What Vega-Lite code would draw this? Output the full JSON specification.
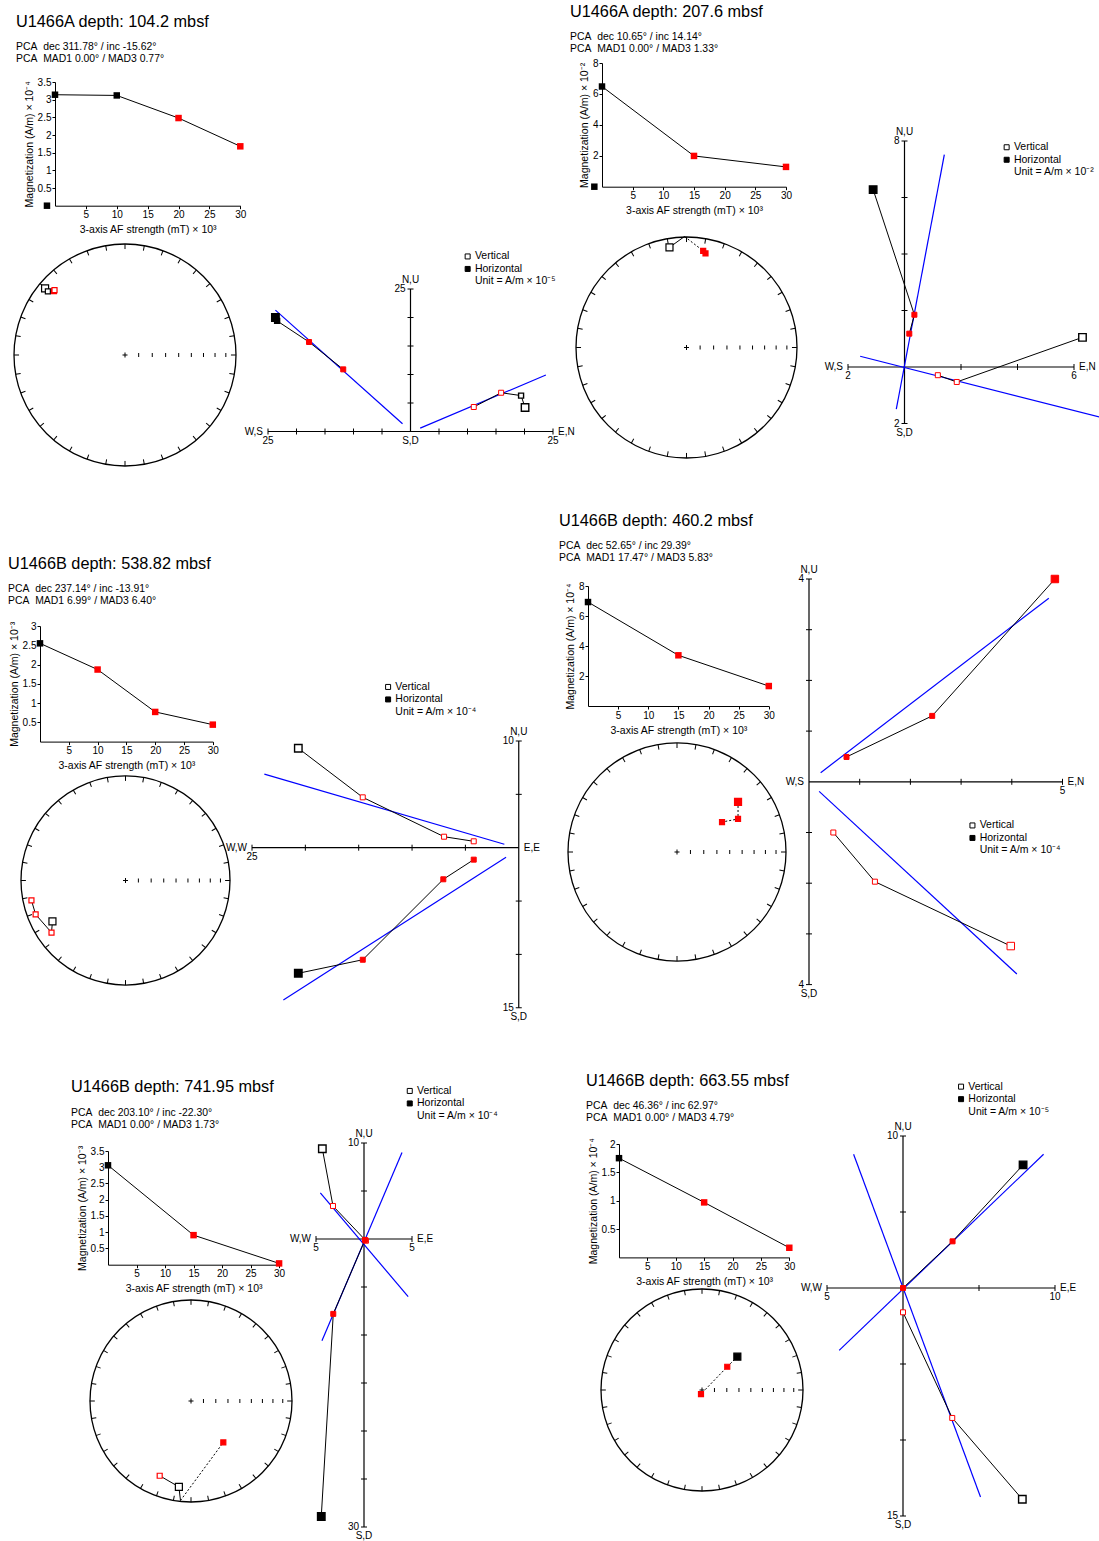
{
"$schema":"https://vega.github.io/schema/vega-lite/v6.json",
"padding":0,
"background":"white",
"bounds":"flush",
"spacing":0,
"resolve":{"scale":{"fill":"independent","stroke":"independent"},"legend":{"fill":"independent","stroke":"independent"}},
"config":{
 "view":{"stroke":null},
 "font":"Liberation Sans",
 "point":{"opacity":1},
 "axis":{"grid":false,"domainColor":"black","tickColor":"black","labelColor":"black","titleColor":"black","labelFontSize":10,"titleFontSize":10.5,"titleFontWeight":"normal","tickSize":3,"labelPadding":1,"labelFlush":false,"labelOverlap":false,"domainWidth":1,"tickWidth":1,"labelFont":"Liberation Sans","titleFont":"Liberation Sans","format":"~g"},
 "axisX":{"titlePadding":5},
 "axisY":{"titlePadding":3},
 "title":{"anchor":"start","frame":"group","fontSize":16.3,"fontWeight":"normal","color":"black","subtitleFontSize":10.4,"subtitleColor":"black","subtitlePadding":12,"subtitleLineHeight":12,"font":"Liberation Sans","subtitleFont":"Liberation Sans"},
 "legend":{"labelFontSize":10.5,"labelColor":"black","labelFont":"Liberation Sans","padding":0}
},
"datasets":{
 "ctr":[{"x":0,"y":0}],
 "net":[{"a":0,"x":0,"y":0.977},{"a":10,"x":0.1697,"y":0.9622},{"a":20,"x":0.3342,"y":0.9181},{"a":30,"x":0.4885,"y":0.8461},{"a":40,"x":0.628,"y":0.7484},{"a":50,"x":0.7484,"y":0.628},{"a":60,"x":0.8461,"y":0.4885},{"a":70,"x":0.9181,"y":0.3342},{"a":80,"x":0.9622,"y":0.1697},{"a":90,"x":0.977,"y":0},{"a":100,"x":0.9622,"y":-0.1697},{"a":110,"x":0.9181,"y":-0.3342},{"a":120,"x":0.8461,"y":-0.4885},{"a":130,"x":0.7484,"y":-0.628},{"a":140,"x":0.628,"y":-0.7484},{"a":150,"x":0.4885,"y":-0.8461},{"a":160,"x":0.3342,"y":-0.9181},{"a":170,"x":0.1697,"y":-0.9622},{"a":180,"x":0,"y":-0.977},{"a":190,"x":-0.1697,"y":-0.9622},{"a":200,"x":-0.3342,"y":-0.9181},{"a":210,"x":-0.4885,"y":-0.8461},{"a":220,"x":-0.628,"y":-0.7484},{"a":230,"x":-0.7484,"y":-0.628},{"a":240,"x":-0.8461,"y":-0.4885},{"a":250,"x":-0.9181,"y":-0.3342},{"a":260,"x":-0.9622,"y":-0.1697},{"a":270,"x":-0.977,"y":0},{"a":280,"x":-0.9622,"y":0.1697},{"a":290,"x":-0.9181,"y":0.3342},{"a":300,"x":-0.8461,"y":0.4885},{"a":310,"x":-0.7484,"y":0.628},{"a":320,"x":-0.628,"y":0.7484},{"a":330,"x":-0.4885,"y":0.8461},{"a":340,"x":-0.3342,"y":0.9181},{"a":350,"x":-0.1697,"y":0.9622}],
 "inc":[{"x":0.1233,"y":0},{"x":0.2456,"y":0},{"x":0.366,"y":0},{"x":0.4837,"y":0},{"x":0.5976,"y":0},{"x":0.7071,"y":0},{"x":0.8112,"y":0},{"x":0.9085,"y":0}],
 "lc_L1":[{"af":0,"m":3.14,"fit":false,"step":0},{"af":10,"m":3.12,"fit":false,"step":10},{"af":20,"m":2.48,"fit":true,"step":20},{"af":30,"m":1.68,"fit":true,"step":30},{"af":-1.3,"m":0,"fit":false,"step":-1}],
 "lc_R1":[{"af":0,"m":6.48,"fit":false,"step":0},{"af":15,"m":1.99,"fit":true,"step":15},{"af":30,"m":1.28,"fit":true,"step":30},{"af":-1.25,"m":0,"fit":false,"step":-1}],
 "lc_L2":[{"af":0,"m":2.55,"fit":false,"step":0},{"af":10,"m":1.87,"fit":true,"step":10},{"af":20,"m":0.77,"fit":true,"step":20},{"af":30,"m":0.44,"fit":true,"step":30}],
 "lc_R2":[{"af":0,"m":6.93,"fit":false,"step":0},{"af":15,"m":3.38,"fit":true,"step":15},{"af":30,"m":1.33,"fit":true,"step":30}],
 "lc_L3":[{"af":0,"m":3.06,"fit":false,"step":0},{"af":15,"m":0.91,"fit":true,"step":15},{"af":30,"m":0.04,"fit":true,"step":30}],
 "lc_R3":[{"af":0,"m":1.75,"fit":false,"step":0},{"af":15,"m":0.97,"fit":true,"step":15},{"af":30,"m":0.17,"fit":true,"step":30}],
 "s_L1":[{"k":"pt","x":-0.72,"y":0.6,"step":0,"fit":false,"up":true},{"k":"pt","x":-0.695,"y":0.573,"step":10,"fit":false,"up":true},{"k":"pt","x":-0.64,"y":0.575,"step":20,"fit":true,"up":true},{"k":"pt","x":-0.635,"y":0.585,"step":30,"fit":true,"up":true},
   {"k":"path","g":1,"o":0,"lo":false,"x":-0.72,"y":0.6},{"k":"path","g":1,"o":1,"lo":false,"x":-0.695,"y":0.573},{"k":"path","g":1,"o":2,"lo":false,"x":-0.64,"y":0.575},{"k":"path","g":1,"o":3,"lo":false,"x":-0.635,"y":0.585}],
 "s_R1":[{"k":"pt","x":-0.154,"y":0.906,"step":0,"fit":false,"up":true},{"k":"pt","x":0.151,"y":0.875,"step":15,"fit":true,"up":false},{"k":"pt","x":0.172,"y":0.851,"step":30,"fit":true,"up":false},
   {"k":"path","g":1,"o":0,"lo":false,"x":-0.154,"y":0.906},{"k":"path","g":1,"o":1,"lo":false,"x":-0.018,"y":1.0045},{"k":"path","g":2,"o":0,"lo":true,"x":-0.018,"y":1.0045},{"k":"path","g":2,"o":1,"lo":true,"x":0.151,"y":0.875},{"k":"path","g":2,"o":2,"lo":true,"x":0.172,"y":0.851}],
 "s_L2":[{"k":"pt","x":-0.699,"y":-0.392,"step":0,"fit":false,"up":true},{"k":"pt","x":-0.708,"y":-0.498,"step":10,"fit":true,"up":true},{"k":"pt","x":-0.86,"y":-0.325,"step":20,"fit":true,"up":true},{"k":"pt","x":-0.9,"y":-0.19,"step":30,"fit":true,"up":true},
   {"k":"path","g":1,"o":0,"lo":false,"x":-0.699,"y":-0.392},{"k":"path","g":1,"o":1,"lo":false,"x":-0.708,"y":-0.498},{"k":"path","g":1,"o":2,"lo":false,"x":-0.86,"y":-0.325},{"k":"path","g":1,"o":3,"lo":false,"x":-0.9,"y":-0.19}],
 "s_R2":[{"k":"pt","x":0.56,"y":0.459,"step":0,"fit":true,"up":false},{"k":"pt","x":0.56,"y":0.303,"step":15,"fit":true,"up":false},{"k":"pt","x":0.413,"y":0.275,"step":30,"fit":true,"up":false},
   {"k":"path","g":1,"o":0,"lo":true,"x":0.56,"y":0.459},{"k":"path","g":1,"o":1,"lo":true,"x":0.56,"y":0.303},{"k":"path","g":1,"o":2,"lo":true,"x":0.413,"y":0.275}],
 "s_L3":[{"k":"pt","x":-0.12,"y":-0.85,"step":0,"fit":false,"up":true},{"k":"pt","x":-0.31,"y":-0.74,"step":15,"fit":true,"up":true},{"k":"pt","x":0.32,"y":-0.41,"step":30,"fit":true,"up":false},
   {"k":"path","g":1,"o":0,"lo":false,"x":-0.31,"y":-0.74},{"k":"path","g":1,"o":1,"lo":false,"x":-0.12,"y":-0.85},{"k":"path","g":1,"o":2,"lo":false,"x":-0.104,"y":-0.985},{"k":"path","g":2,"o":0,"lo":true,"x":-0.104,"y":-0.985},{"k":"path","g":2,"o":1,"lo":true,"x":0.32,"y":-0.41}],
 "s_R3":[{"k":"pt","x":0.35,"y":0.33,"step":0,"fit":false,"up":false},{"k":"pt","x":0.25,"y":0.23,"step":15,"fit":true,"up":false},{"k":"pt","x":-0.01,"y":-0.04,"step":30,"fit":true,"up":false},
   {"k":"path","g":1,"o":0,"lo":true,"x":0.35,"y":0.33},{"k":"path","g":1,"o":1,"lo":true,"x":0.25,"y":0.23},{"k":"path","g":1,"o":2,"lo":true,"x":-0.01,"y":-0.04}],
 "z_L1":[
   {"k":"pt","comp":"Horizontal","x":-23.7,"y":20.0,"step":0,"fit":false},{"k":"pt","comp":"Horizontal","x":-23.4,"y":19.4,"step":10,"fit":false},{"k":"pt","comp":"Horizontal","x":-17.8,"y":15.7,"step":20,"fit":true},{"k":"pt","comp":"Horizontal","x":-11.8,"y":10.9,"step":30,"fit":true},
   {"k":"pt","comp":"Vertical","x":20.1,"y":4.2,"step":0,"fit":false},{"k":"pt","comp":"Vertical","x":19.4,"y":6.3,"step":10,"fit":false},{"k":"pt","comp":"Vertical","x":15.9,"y":6.8,"step":20,"fit":true},{"k":"pt","comp":"Vertical","x":11.1,"y":4.3,"step":30,"fit":true},
   {"k":"fit","x":-23.7,"y":21.3,"x2":-1.4,"y2":1.35},{"k":"fit","x":1.7,"y":0.6,"x2":23.75,"y2":9.9},
   {"k":"axis","x":-25,"y":0,"x2":25,"y2":0},{"k":"axis","x":0,"y":0,"x2":0,"y2":25},
   {"k":"ht","x":-25,"y":0},{"k":"ht","x":-20,"y":0},{"k":"ht","x":-15,"y":0},{"k":"ht","x":-10,"y":0},{"k":"ht","x":-5,"y":0},{"k":"ht","x":5,"y":0},{"k":"ht","x":10,"y":0},{"k":"ht","x":15,"y":0},{"k":"ht","x":20,"y":0},{"k":"ht","x":25,"y":0},
   {"k":"vt","x":0,"y":5},{"k":"vt","x":0,"y":10},{"k":"vt","x":0,"y":15},{"k":"vt","x":0,"y":20},{"k":"vt","x":0,"y":25},
   {"k":"lab","pos":"above","t":"N,U","x":0,"y":25},{"k":"lab","pos":"leftof","t":"25","x":0,"y":25},{"k":"lab","pos":"leftof","t":"W,S","x":-25,"y":0},{"k":"lab","pos":"below","t":"25","x":-25,"y":0},{"k":"lab","pos":"rightof","t":"E,N","x":25,"y":0},{"k":"lab","pos":"below","t":"25","x":25,"y":0},{"k":"lab","pos":"below","t":"S,D","x":0,"y":0}],
 "z_R1":[
   {"k":"pt","comp":"Horizontal","x":-1.11,"y":6.28,"step":0,"fit":false},{"k":"pt","comp":"Horizontal","x":0.35,"y":1.85,"step":15,"fit":true},{"k":"pt","comp":"Horizontal","x":0.17,"y":1.18,"step":30,"fit":true},
   {"k":"pt","comp":"Vertical","x":6.3,"y":1.05,"step":0,"fit":false},{"k":"pt","comp":"Vertical","x":1.85,"y":-0.53,"step":15,"fit":true},{"k":"pt","comp":"Vertical","x":1.18,"y":-0.29,"step":30,"fit":true},
   {"k":"fit","x":1.41,"y":7.52,"x2":-0.29,"y2":-1.49},{"k":"fit","x":-1.57,"y":0.38,"x2":6.89,"y2":-1.77},
   {"k":"axis","x":-2,"y":0,"x2":6,"y2":0},{"k":"axis","x":0,"y":-2,"x2":0,"y2":8},
   {"k":"ht","x":-2,"y":0},{"k":"ht","x":2,"y":0},{"k":"ht","x":4,"y":0},{"k":"ht","x":6,"y":0},
   {"k":"vt","x":0,"y":-2},{"k":"vt","x":0,"y":2},{"k":"vt","x":0,"y":4},{"k":"vt","x":0,"y":6},{"k":"vt","x":0,"y":8},
   {"k":"lab","pos":"above","t":"N,U","x":0,"y":8},{"k":"lab","pos":"leftof","t":"8","x":0,"y":8},{"k":"lab","pos":"leftof","t":"W,S","x":-2,"y":0},{"k":"lab","pos":"below","t":"2","x":-2,"y":0},{"k":"lab","pos":"rightof","t":"E,N","x":6,"y":0},{"k":"lab","pos":"below","t":"6","x":6,"y":0},{"k":"lab","pos":"leftof","t":"2","x":0,"y":-2},{"k":"lab","pos":"below","t":"S,D","x":0,"y":-2}],
 "z_L2":[
   {"k":"pt","comp":"Vertical","x":-20.66,"y":9.32,"step":0,"fit":false},{"k":"pt","comp":"Vertical","x":-14.62,"y":4.72,"step":10,"fit":true},{"k":"pt","comp":"Vertical","x":-7.0,"y":1.03,"step":20,"fit":true},{"k":"pt","comp":"Vertical","x":-4.22,"y":0.6,"step":30,"fit":true},
   {"k":"pt","comp":"Horizontal","x":-20.66,"y":-11.77,"step":0,"fit":false},{"k":"pt","comp":"Horizontal","x":-14.62,"y":-10.5,"step":10,"fit":true},{"k":"pt","comp":"Horizontal","x":-7.07,"y":-2.96,"step":20,"fit":true},{"k":"pt","comp":"Horizontal","x":-4.22,"y":-1.12,"step":30,"fit":true},
   {"k":"fit","x":-23.84,"y":6.9,"x2":-1.35,"y2":0.32},{"k":"fit","x":-22.06,"y":-14.27,"x2":-1.19,"y2":-0.9},
   {"k":"axis","x":-25,"y":0,"x2":0,"y2":0},{"k":"axis","x":0,"y":-15,"x2":0,"y2":10},
   {"k":"ht","x":-25,"y":0},{"k":"ht","x":-20,"y":0},{"k":"ht","x":-15,"y":0},{"k":"ht","x":-10,"y":0},{"k":"ht","x":-5,"y":0},
   {"k":"vt","x":0,"y":-15},{"k":"vt","x":0,"y":-10},{"k":"vt","x":0,"y":-5},{"k":"vt","x":0,"y":5},{"k":"vt","x":0,"y":10},
   {"k":"lab","pos":"above","t":"N,U","x":0,"y":10},{"k":"lab","pos":"leftof","t":"10","x":0,"y":10},{"k":"lab","pos":"leftof","t":"W,W","x":-25,"y":0},{"k":"lab","pos":"below","t":"25","x":-25,"y":0},{"k":"lab","pos":"rightof","t":"E,E","x":0,"y":0},{"k":"lab","pos":"leftof","t":"15","x":0,"y":-15},{"k":"lab","pos":"below","t":"S,D","x":0,"y":-15}],
 "z_R2":[
   {"k":"pt","comp":"Horizontal","x":4.85,"y":4.0,"step":0,"fit":true},{"k":"pt","comp":"Horizontal","x":2.43,"y":1.3,"step":15,"fit":true},{"k":"pt","comp":"Horizontal","x":0.74,"y":0.49,"step":30,"fit":true},
   {"k":"pt","comp":"Vertical","x":3.98,"y":-3.24,"step":0,"fit":true},{"k":"pt","comp":"Vertical","x":1.3,"y":-1.97,"step":15,"fit":true},{"k":"pt","comp":"Vertical","x":0.48,"y":-1.0,"step":30,"fit":true},
   {"k":"fit","x":0.23,"y":0.18,"x2":4.73,"y2":3.62},{"k":"fit","x":0.2,"y":-0.19,"x2":4.1,"y2":-3.79},
   {"k":"axis","x":0,"y":0,"x2":5,"y2":0},{"k":"axis","x":0,"y":-4,"x2":0,"y2":4},
   {"k":"ht","x":1,"y":0},{"k":"ht","x":2,"y":0},{"k":"ht","x":3,"y":0},{"k":"ht","x":4,"y":0},{"k":"ht","x":5,"y":0},
   {"k":"vt","x":0,"y":-4},{"k":"vt","x":0,"y":-3},{"k":"vt","x":0,"y":-2},{"k":"vt","x":0,"y":-1},{"k":"vt","x":0,"y":1},{"k":"vt","x":0,"y":2},{"k":"vt","x":0,"y":3},{"k":"vt","x":0,"y":4},
   {"k":"lab","pos":"above","t":"N,U","x":0,"y":4},{"k":"lab","pos":"leftof","t":"4","x":0,"y":4},{"k":"lab","pos":"leftof","t":"W,S","x":0,"y":0},{"k":"lab","pos":"rightof","t":"E,N","x":5,"y":0},{"k":"lab","pos":"below","t":"5","x":5,"y":0},{"k":"lab","pos":"leftof","t":"4","x":0,"y":-4},{"k":"lab","pos":"below","t":"S,D","x":0,"y":-4}],
 "z_L3":[
   {"k":"pt","comp":"Vertical","x":-4.34,"y":9.4,"step":0,"fit":false},{"k":"pt","comp":"Vertical","x":-3.23,"y":3.44,"step":15,"fit":true},{"k":"pt","comp":"Vertical","x":0.2,"y":-0.18,"step":30,"fit":true},
   {"k":"pt","comp":"Horizontal","x":-4.45,"y":-28.9,"step":0,"fit":false},{"k":"pt","comp":"Horizontal","x":-3.2,"y":-7.8,"step":15,"fit":true},{"k":"pt","comp":"Horizontal","x":0.1,"y":-0.1,"step":30,"fit":true},
   {"k":"fit","x":3.96,"y":9.0,"x2":-4.38,"y2":-10.6},{"k":"fit","x":-4.55,"y":4.8,"x2":4.6,"y2":-6.0},
   {"k":"axis","x":-5,"y":0,"x2":5,"y2":0},{"k":"axis","x":0,"y":-30,"x2":0,"y2":10},
   {"k":"ht","x":-5,"y":0},{"k":"ht","x":5,"y":0},
   {"k":"vt","x":0,"y":-30},{"k":"vt","x":0,"y":-25},{"k":"vt","x":0,"y":-20},{"k":"vt","x":0,"y":-15},{"k":"vt","x":0,"y":-10},{"k":"vt","x":0,"y":-5},{"k":"vt","x":0,"y":5},{"k":"vt","x":0,"y":10},
   {"k":"lab","pos":"above","t":"N,U","x":0,"y":10},{"k":"lab","pos":"leftof","t":"10","x":0,"y":10},{"k":"lab","pos":"leftof","t":"W,W","x":-5,"y":0},{"k":"lab","pos":"below","t":"5","x":-5,"y":0},{"k":"lab","pos":"rightof","t":"E,E","x":5,"y":0},{"k":"lab","pos":"below","t":"5","x":5,"y":0},{"k":"lab","pos":"leftof","t":"30","x":0,"y":-30},{"k":"lab","pos":"below","t":"S,D","x":0,"y":-30}],
 "z_R3":[
   {"k":"pt","comp":"Horizontal","x":7.9,"y":8.1,"step":0,"fit":false},{"k":"pt","comp":"Horizontal","x":3.26,"y":3.07,"step":15,"fit":true},{"k":"pt","comp":"Horizontal","x":0,"y":0,"step":30,"fit":true},
   {"k":"pt","comp":"Vertical","x":7.85,"y":-13.9,"step":0,"fit":false},{"k":"pt","comp":"Vertical","x":3.24,"y":-8.55,"step":15,"fit":true},{"k":"pt","comp":"Vertical","x":0,"y":-1.6,"step":30,"fit":true},
   {"k":"fit","x":-3.25,"y":8.8,"x2":5.1,"y2":-13.75},{"k":"fit","x":9.25,"y":8.8,"x2":-4.2,"y2":-4.1},
   {"k":"axis","x":-5,"y":0,"x2":10,"y2":0},{"k":"axis","x":0,"y":-15,"x2":0,"y2":10},
   {"k":"ht","x":-5,"y":0},{"k":"ht","x":5,"y":0},{"k":"ht","x":10,"y":0},
   {"k":"vt","x":0,"y":-15},{"k":"vt","x":0,"y":-10},{"k":"vt","x":0,"y":-5},{"k":"vt","x":0,"y":5},{"k":"vt","x":0,"y":10},
   {"k":"lab","pos":"above","t":"N,U","x":0,"y":10},{"k":"lab","pos":"leftof","t":"10","x":0,"y":10},{"k":"lab","pos":"leftof","t":"W,W","x":-5,"y":0},{"k":"lab","pos":"below","t":"5","x":-5,"y":0},{"k":"lab","pos":"rightof","t":"E,E","x":10,"y":0},{"k":"lab","pos":"below","t":"10","x":10,"y":0},{"k":"lab","pos":"leftof","t":"15","x":0,"y":-15},{"k":"lab","pos":"below","t":"S,D","x":0,"y":-15}]
},
"hconcat":[
 {"columns":2,"bounds":"flush","spacing":0,"concat":[
  {"width":55,"height":82,"data":{"values":[]},"mark":"point"},{"width":1,"height":1,"data":{"values":[]},"mark":"point"},{"width":1,"height":1,"data":{"values":[]},"mark":"point"},
  {"width":185.3,"height":123.7,"data":{"name":"lc_L1"},
   "title":{"text":"U1466A depth: 104.2 mbsf","subtitle":["PCA\u00a0 dec 311.78° / inc -15.62°","PCA\u00a0 MAD1 0.00° / MAD3 0.77°"],"dx":-39,"offset":12.5},
   "encoding":{"x":{"field":"af","type":"quantitative","scale":{"domain":[0,30],"nice":false,"zero":false},"axis":{"values":[5,10,15,20,25,30],"title":"3-axis AF strength (mT) × 10³"}},"y":{"field":"m","type":"quantitative","scale":{"domain":[0,3.5],"nice":false,"zero":false},"axis":{"values":[0.5,1,1.5,2,2.5,3,3.5],"title":"Magnetization (A/m) × 10⁻⁴"}}},
   "layer":[
    {"transform":[{"filter":"datum.step >= 0"}],"mark":{"type":"line","color":"black","strokeWidth":1}},
    {"mark":{"type":"point","shape":"square","filled":true,"size":42,"opacity":1},"encoding":{"fill":{"condition":{"test":"datum.fit","value":"red"},"value":"black"}}}
   ]}]},
 {"columns":2,"bounds":"flush","spacing":0,"concat":[
  {"width":602,"height":62.3,"data":{"values":[]},"mark":"point"},{"width":1,"height":1,"data":{"values":[]},"mark":"point"},{"width":1,"height":1,"data":{"values":[]},"mark":"point"},
  {"width":184,"height":123.7,"data":{"name":"lc_R1"},
   "title":{"text":"U1466A depth: 207.6 mbsf","subtitle":["PCA\u00a0 dec 10.65° / inc 14.14°","PCA\u00a0 MAD1 0.00° / MAD3 1.33°"],"dx":-32,"offset":3.2},
   "encoding":{"x":{"field":"af","type":"quantitative","scale":{"domain":[0,30],"nice":false,"zero":false},"axis":{"values":[5,10,15,20,25,30],"title":"3-axis AF strength (mT) × 10³"}},"y":{"field":"m","type":"quantitative","scale":{"domain":[0,8],"nice":false,"zero":false},"axis":{"values":[2,4,6,8],"title":"Magnetization (A/m) × 10⁻²"}}},
   "layer":[
    {"transform":[{"filter":"datum.step >= 0"}],"mark":{"type":"line","color":"black","strokeWidth":1}},
    {"mark":{"type":"point","shape":"square","filled":true,"size":42,"opacity":1},"encoding":{"fill":{"condition":{"test":"datum.fit","value":"red"},"value":"black"}}}
   ]}]},
 {"columns":2,"bounds":"flush","spacing":0,"concat":[
  {"width":39.5,"height":626,"data":{"values":[]},"mark":"point"},{"width":1,"height":1,"data":{"values":[]},"mark":"point"},{"width":1,"height":1,"data":{"values":[]},"mark":"point"},
  {"width":172.8,"height":115.6,"data":{"name":"lc_L2"},
   "title":{"text":"U1466B depth: 538.82 mbsf","subtitle":["PCA\u00a0 dec 237.14° / inc -13.91°","PCA\u00a0 MAD1 6.99° / MAD3 6.40°"],"dx":-32,"offset":14.2},
   "encoding":{"x":{"field":"af","type":"quantitative","scale":{"domain":[0,30],"nice":false,"zero":false},"axis":{"values":[5,10,15,20,25,30],"title":"3-axis AF strength (mT) × 10³"}},"y":{"field":"m","type":"quantitative","scale":{"domain":[0,3],"nice":false,"zero":false},"axis":{"values":[0.5,1,1.5,2,2.5,3],"title":"Magnetization (A/m) × 10⁻³"}}},
   "layer":[
    {"transform":[{"filter":"datum.step >= 0"}],"mark":{"type":"line","color":"black","strokeWidth":1}},
    {"mark":{"type":"point","shape":"square","filled":true,"size":42,"opacity":1},"encoding":{"fill":{"condition":{"test":"datum.fit","value":"red"},"value":"black"}}}
   ]}]},
 {"columns":2,"bounds":"flush","spacing":0,"concat":[
  {"width":587.5,"height":585.7,"data":{"values":[]},"mark":"point"},{"width":1,"height":1,"data":{"values":[]},"mark":"point"},{"width":1,"height":1,"data":{"values":[]},"mark":"point"},
  {"width":180.8,"height":120,"data":{"name":"lc_R2"},
   "title":{"text":"U1466B depth: 460.2 mbsf","subtitle":["PCA\u00a0 dec 52.65° / inc 29.39°","PCA\u00a0 MAD1 17.47° / MAD3 5.83°"],"dx":-29,"offset":17.2},
   "encoding":{"x":{"field":"af","type":"quantitative","scale":{"domain":[0,30],"nice":false,"zero":false},"axis":{"values":[5,10,15,20,25,30],"title":"3-axis AF strength (mT) × 10³"}},"y":{"field":"m","type":"quantitative","scale":{"domain":[0,8],"nice":false,"zero":false},"axis":{"values":[2,4,6,8],"title":"Magnetization (A/m) × 10⁻⁴"}}},
   "layer":[
    {"transform":[{"filter":"datum.step >= 0"}],"mark":{"type":"line","color":"black","strokeWidth":1}},
    {"mark":{"type":"point","shape":"square","filled":true,"size":42,"opacity":1},"encoding":{"fill":{"condition":{"test":"datum.fit","value":"red"},"value":"black"}}}
   ]}]},
 {"columns":2,"bounds":"flush","spacing":0,"concat":[
  {"width":107.2,"height":1150.3,"data":{"values":[]},"mark":"point"},{"width":1,"height":1,"data":{"values":[]},"mark":"point"},{"width":1,"height":1,"data":{"values":[]},"mark":"point"},
  {"width":171.1,"height":113.7,"data":{"name":"lc_L3"},
   "title":{"text":"U1466B depth: 741.95 mbsf","subtitle":["PCA\u00a0 dec 203.10° / inc -22.30°","PCA\u00a0 MAD1 0.00° / MAD3 1.73°"],"dx":-37,"offset":15.2},
   "encoding":{"x":{"field":"af","type":"quantitative","scale":{"domain":[0,30],"nice":false,"zero":false},"axis":{"values":[5,10,15,20,25,30],"title":"3-axis AF strength (mT) × 10³"}},"y":{"field":"m","type":"quantitative","scale":{"domain":[0,3.5],"nice":false,"zero":false},"axis":{"values":[0.5,1,1.5,2,2.5,3,3.5],"title":"Magnetization (A/m) × 10⁻³"}}},
   "layer":[
    {"transform":[{"filter":"datum.step >= 0"}],"mark":{"type":"line","color":"black","strokeWidth":1}},
    {"mark":{"type":"point","shape":"square","filled":true,"size":42,"opacity":1},"encoding":{"fill":{"condition":{"test":"datum.fit","value":"red"},"value":"black"}}}
   ]}]},
 {"columns":2,"bounds":"flush","spacing":0,"concat":[
  {"width":619,"height":1143.3,"data":{"values":[]},"mark":"point"},{"width":1,"height":1,"data":{"values":[]},"mark":"point"},{"width":1,"height":1,"data":{"values":[]},"mark":"point"},
  {"width":170.3,"height":113.4,"data":{"name":"lc_R3"},
   "title":{"text":"U1466B depth: 663.55 mbsf","subtitle":["PCA\u00a0 dec 46.36° / inc 62.97°","PCA\u00a0 MAD1 0.00° / MAD3 4.79°"],"dx":-33,"offset":14.2},
   "encoding":{"x":{"field":"af","type":"quantitative","scale":{"domain":[0,30],"nice":false,"zero":false},"axis":{"values":[5,10,15,20,25,30],"title":"3-axis AF strength (mT) × 10³"}},"y":{"field":"m","type":"quantitative","scale":{"domain":[0,2],"nice":false,"zero":false},"axis":{"values":[0.5,1,1.5,2],"title":"Magnetization (A/m) × 10⁻⁴"}}},
   "layer":[
    {"transform":[{"filter":"datum.step >= 0"}],"mark":{"type":"line","color":"black","strokeWidth":1}},
    {"mark":{"type":"point","shape":"square","filled":true,"size":42,"opacity":1},"encoding":{"fill":{"condition":{"test":"datum.fit","value":"red"},"value":"black"}}}
   ]}]},

 {"columns":2,"bounds":"flush","spacing":0,"concat":[
  {"width":14,"height":243.3,"data":{"values":[]},"mark":"point"},{"width":1,"height":1,"data":{"values":[]},"mark":"point"},{"width":1,"height":1,"data":{"values":[]},"mark":"point"},
  {"width":222,"height":222,
   "encoding":{"x":{"field":"x","type":"quantitative","scale":{"domain":[-1,1],"nice":false,"zero":false},"axis":null},"y":{"field":"y","type":"quantitative","scale":{"domain":[-1,1],"nice":false,"zero":false},"axis":null}},
   "layer":[
    {"data":{"name":"ctr"},"mark":{"type":"point","shape":"circle","size":49284,"filled":false,"stroke":"black","strokeWidth":1.3,"opacity":1}},
    {"data":{"name":"net"},"mark":{"type":"point","shape":"stroke","size":25,"stroke":"black","strokeWidth":1,"opacity":1},"encoding":{"angle":{"field":"a","type":"quantitative","scale":{"domain":[0,360],"range":[90,450]},"legend":null}}},
    {"data":{"name":"inc"},"mark":{"type":"point","shape":"stroke","size":16,"angle":90,"stroke":"black","strokeWidth":1,"opacity":1}},
    {"data":{"name":"ctr"},"mark":{"type":"point","shape":"stroke","size":25,"angle":0,"stroke":"black","strokeWidth":1,"opacity":1}},
    {"data":{"name":"ctr"},"mark":{"type":"point","shape":"stroke","size":25,"angle":90,"stroke":"black","strokeWidth":1,"opacity":1}},
    {"data":{"name":"s_L1"},"transform":[{"filter":"datum.k=='path' && !datum.lo"}],"mark":{"type":"line","color":"black","strokeWidth":1},"encoding":{"detail":{"field":"g"},"order":{"field":"o"}}},
    {"data":{"name":"s_L1"},"transform":[{"filter":"datum.k=='path' && datum.lo"}],"mark":{"type":"line","color":"black","strokeWidth":1,"strokeDash":[2,2]},"encoding":{"detail":{"field":"g"},"order":{"field":"o"}}},
    {"data":{"name":"s_L1"},"transform":[{"filter":"datum.k=='pt'"}],"mark":{"type":"point","shape":"square","filled":true,"strokeWidth":1.2,"opacity":1},"encoding":{"fill":{"condition":[{"test":"datum.up","value":"white"},{"test":"datum.fit","value":"red"}],"value":"black"},"stroke":{"condition":{"test":"datum.fit","value":"red"},"value":"black"},"size":{"condition":{"test":"datum.step==0","value":49},"value":25}}}
   ]}]},
 {"columns":2,"bounds":"flush","spacing":0,"concat":[
  {"width":575.5,"height":236.2,"data":{"values":[]},"mark":"point"},{"width":1,"height":1,"data":{"values":[]},"mark":"point"},{"width":1,"height":1,"data":{"values":[]},"mark":"point"},
  {"width":221,"height":221,
   "encoding":{"x":{"field":"x","type":"quantitative","scale":{"domain":[-1,1],"nice":false,"zero":false},"axis":null},"y":{"field":"y","type":"quantitative","scale":{"domain":[-1,1],"nice":false,"zero":false},"axis":null}},
   "layer":[
    {"data":{"name":"ctr"},"mark":{"type":"point","shape":"circle","size":48841,"filled":false,"stroke":"black","strokeWidth":1.3,"opacity":1}},
    {"data":{"name":"net"},"mark":{"type":"point","shape":"stroke","size":25,"stroke":"black","strokeWidth":1,"opacity":1},"encoding":{"angle":{"field":"a","type":"quantitative","scale":{"domain":[0,360],"range":[90,450]},"legend":null}}},
    {"data":{"name":"inc"},"mark":{"type":"point","shape":"stroke","size":16,"angle":90,"stroke":"black","strokeWidth":1,"opacity":1}},
    {"data":{"name":"ctr"},"mark":{"type":"point","shape":"stroke","size":25,"angle":0,"stroke":"black","strokeWidth":1,"opacity":1}},
    {"data":{"name":"ctr"},"mark":{"type":"point","shape":"stroke","size":25,"angle":90,"stroke":"black","strokeWidth":1,"opacity":1}},
    {"data":{"name":"s_R1"},"transform":[{"filter":"datum.k=='path' && !datum.lo"}],"mark":{"type":"line","color":"black","strokeWidth":1},"encoding":{"detail":{"field":"g"},"order":{"field":"o"}}},
    {"data":{"name":"s_R1"},"transform":[{"filter":"datum.k=='path' && datum.lo"}],"mark":{"type":"line","color":"black","strokeWidth":1,"strokeDash":[2,2]},"encoding":{"detail":{"field":"g"},"order":{"field":"o"}}},
    {"data":{"name":"s_R1"},"transform":[{"filter":"datum.k=='pt'"}],"mark":{"type":"point","shape":"square","filled":true,"strokeWidth":1.2,"opacity":1},"encoding":{"fill":{"condition":[{"test":"datum.up","value":"white"},{"test":"datum.fit","value":"red"}],"value":"black"},"stroke":{"condition":{"test":"datum.fit","value":"red"},"value":"black"},"size":{"condition":{"test":"datum.step==0","value":49},"value":25}}}
   ]}]},
 {"columns":2,"bounds":"flush","spacing":0,"concat":[
  {"width":20.5,"height":775.5,"data":{"values":[]},"mark":"point"},{"width":1,"height":1,"data":{"values":[]},"mark":"point"},{"width":1,"height":1,"data":{"values":[]},"mark":"point"},
  {"width":209,"height":209,
   "encoding":{"x":{"field":"x","type":"quantitative","scale":{"domain":[-1,1],"nice":false,"zero":false},"axis":null},"y":{"field":"y","type":"quantitative","scale":{"domain":[-1,1],"nice":false,"zero":false},"axis":null}},
   "layer":[
    {"data":{"name":"ctr"},"mark":{"type":"point","shape":"circle","size":43681,"filled":false,"stroke":"black","strokeWidth":1.3,"opacity":1}},
    {"data":{"name":"net"},"mark":{"type":"point","shape":"stroke","size":25,"stroke":"black","strokeWidth":1,"opacity":1},"encoding":{"angle":{"field":"a","type":"quantitative","scale":{"domain":[0,360],"range":[90,450]},"legend":null}}},
    {"data":{"name":"inc"},"mark":{"type":"point","shape":"stroke","size":16,"angle":90,"stroke":"black","strokeWidth":1,"opacity":1}},
    {"data":{"name":"ctr"},"mark":{"type":"point","shape":"stroke","size":25,"angle":0,"stroke":"black","strokeWidth":1,"opacity":1}},
    {"data":{"name":"ctr"},"mark":{"type":"point","shape":"stroke","size":25,"angle":90,"stroke":"black","strokeWidth":1,"opacity":1}},
    {"data":{"name":"s_L2"},"transform":[{"filter":"datum.k=='path' && !datum.lo"}],"mark":{"type":"line","color":"black","strokeWidth":1},"encoding":{"detail":{"field":"g"},"order":{"field":"o"}}},
    {"data":{"name":"s_L2"},"transform":[{"filter":"datum.k=='path' && datum.lo"}],"mark":{"type":"line","color":"black","strokeWidth":1,"strokeDash":[2,2]},"encoding":{"detail":{"field":"g"},"order":{"field":"o"}}},
    {"data":{"name":"s_L2"},"transform":[{"filter":"datum.k=='pt'"}],"mark":{"type":"point","shape":"square","filled":true,"strokeWidth":1.2,"opacity":1},"encoding":{"fill":{"condition":[{"test":"datum.up","value":"white"},{"test":"datum.fit","value":"red"}],"value":"black"},"stroke":{"condition":{"test":"datum.fit","value":"red"},"value":"black"},"size":{"condition":{"test":"datum.step==0","value":49},"value":25}}}
   ]}]},
 {"columns":2,"bounds":"flush","spacing":0,"concat":[
  {"width":568,"height":743,"data":{"values":[]},"mark":"point"},{"width":1,"height":1,"data":{"values":[]},"mark":"point"},{"width":1,"height":1,"data":{"values":[]},"mark":"point"},
  {"width":218,"height":218,
   "encoding":{"x":{"field":"x","type":"quantitative","scale":{"domain":[-1,1],"nice":false,"zero":false},"axis":null},"y":{"field":"y","type":"quantitative","scale":{"domain":[-1,1],"nice":false,"zero":false},"axis":null}},
   "layer":[
    {"data":{"name":"ctr"},"mark":{"type":"point","shape":"circle","size":47524,"filled":false,"stroke":"black","strokeWidth":1.3,"opacity":1}},
    {"data":{"name":"net"},"mark":{"type":"point","shape":"stroke","size":25,"stroke":"black","strokeWidth":1,"opacity":1},"encoding":{"angle":{"field":"a","type":"quantitative","scale":{"domain":[0,360],"range":[90,450]},"legend":null}}},
    {"data":{"name":"inc"},"mark":{"type":"point","shape":"stroke","size":16,"angle":90,"stroke":"black","strokeWidth":1,"opacity":1}},
    {"data":{"name":"ctr"},"mark":{"type":"point","shape":"stroke","size":25,"angle":0,"stroke":"black","strokeWidth":1,"opacity":1}},
    {"data":{"name":"ctr"},"mark":{"type":"point","shape":"stroke","size":25,"angle":90,"stroke":"black","strokeWidth":1,"opacity":1}},
    {"data":{"name":"s_R2"},"transform":[{"filter":"datum.k=='path' && !datum.lo"}],"mark":{"type":"line","color":"black","strokeWidth":1},"encoding":{"detail":{"field":"g"},"order":{"field":"o"}}},
    {"data":{"name":"s_R2"},"transform":[{"filter":"datum.k=='path' && datum.lo"}],"mark":{"type":"line","color":"black","strokeWidth":1,"strokeDash":[2,2]},"encoding":{"detail":{"field":"g"},"order":{"field":"o"}}},
    {"data":{"name":"s_R2"},"transform":[{"filter":"datum.k=='pt'"}],"mark":{"type":"point","shape":"square","filled":true,"strokeWidth":1.2,"opacity":1},"encoding":{"fill":{"condition":[{"test":"datum.up","value":"white"},{"test":"datum.fit","value":"red"}],"value":"black"},"stroke":{"condition":{"test":"datum.fit","value":"red"},"value":"black"},"size":{"condition":{"test":"datum.step==0","value":49},"value":25}}}
   ]}]},
 {"columns":2,"bounds":"flush","spacing":0,"concat":[
  {"width":89.5,"height":1299.5,"data":{"values":[]},"mark":"point"},{"width":1,"height":1,"data":{"values":[]},"mark":"point"},{"width":1,"height":1,"data":{"values":[]},"mark":"point"},
  {"width":202,"height":202,
   "encoding":{"x":{"field":"x","type":"quantitative","scale":{"domain":[-1,1],"nice":false,"zero":false},"axis":null},"y":{"field":"y","type":"quantitative","scale":{"domain":[-1,1],"nice":false,"zero":false},"axis":null}},
   "layer":[
    {"data":{"name":"ctr"},"mark":{"type":"point","shape":"circle","size":40804,"filled":false,"stroke":"black","strokeWidth":1.3,"opacity":1}},
    {"data":{"name":"net"},"mark":{"type":"point","shape":"stroke","size":25,"stroke":"black","strokeWidth":1,"opacity":1},"encoding":{"angle":{"field":"a","type":"quantitative","scale":{"domain":[0,360],"range":[90,450]},"legend":null}}},
    {"data":{"name":"inc"},"mark":{"type":"point","shape":"stroke","size":16,"angle":90,"stroke":"black","strokeWidth":1,"opacity":1}},
    {"data":{"name":"ctr"},"mark":{"type":"point","shape":"stroke","size":25,"angle":0,"stroke":"black","strokeWidth":1,"opacity":1}},
    {"data":{"name":"ctr"},"mark":{"type":"point","shape":"stroke","size":25,"angle":90,"stroke":"black","strokeWidth":1,"opacity":1}},
    {"data":{"name":"s_L3"},"transform":[{"filter":"datum.k=='path' && !datum.lo"}],"mark":{"type":"line","color":"black","strokeWidth":1},"encoding":{"detail":{"field":"g"},"order":{"field":"o"}}},
    {"data":{"name":"s_L3"},"transform":[{"filter":"datum.k=='path' && datum.lo"}],"mark":{"type":"line","color":"black","strokeWidth":1,"strokeDash":[2,2]},"encoding":{"detail":{"field":"g"},"order":{"field":"o"}}},
    {"data":{"name":"s_L3"},"transform":[{"filter":"datum.k=='pt'"}],"mark":{"type":"point","shape":"square","filled":true,"strokeWidth":1.2,"opacity":1},"encoding":{"fill":{"condition":[{"test":"datum.up","value":"white"},{"test":"datum.fit","value":"red"}],"value":"black"},"stroke":{"condition":{"test":"datum.fit","value":"red"},"value":"black"},"size":{"condition":{"test":"datum.step==0","value":49},"value":25}}}
   ]}]},
 {"columns":2,"bounds":"flush","spacing":0,"concat":[
  {"width":600.5,"height":1289,"data":{"values":[]},"mark":"point"},{"width":1,"height":1,"data":{"values":[]},"mark":"point"},{"width":1,"height":1,"data":{"values":[]},"mark":"point"},
  {"width":202,"height":202,
   "encoding":{"x":{"field":"x","type":"quantitative","scale":{"domain":[-1,1],"nice":false,"zero":false},"axis":null},"y":{"field":"y","type":"quantitative","scale":{"domain":[-1,1],"nice":false,"zero":false},"axis":null}},
   "layer":[
    {"data":{"name":"ctr"},"mark":{"type":"point","shape":"circle","size":40804,"filled":false,"stroke":"black","strokeWidth":1.3,"opacity":1}},
    {"data":{"name":"net"},"mark":{"type":"point","shape":"stroke","size":25,"stroke":"black","strokeWidth":1,"opacity":1},"encoding":{"angle":{"field":"a","type":"quantitative","scale":{"domain":[0,360],"range":[90,450]},"legend":null}}},
    {"data":{"name":"inc"},"mark":{"type":"point","shape":"stroke","size":16,"angle":90,"stroke":"black","strokeWidth":1,"opacity":1}},
    {"data":{"name":"ctr"},"mark":{"type":"point","shape":"stroke","size":25,"angle":0,"stroke":"black","strokeWidth":1,"opacity":1}},
    {"data":{"name":"ctr"},"mark":{"type":"point","shape":"stroke","size":25,"angle":90,"stroke":"black","strokeWidth":1,"opacity":1}},
    {"data":{"name":"s_R3"},"transform":[{"filter":"datum.k=='path' && !datum.lo"}],"mark":{"type":"line","color":"black","strokeWidth":1},"encoding":{"detail":{"field":"g"},"order":{"field":"o"}}},
    {"data":{"name":"s_R3"},"transform":[{"filter":"datum.k=='path' && datum.lo"}],"mark":{"type":"line","color":"black","strokeWidth":1,"strokeDash":[2,2]},"encoding":{"detail":{"field":"g"},"order":{"field":"o"}}},
    {"data":{"name":"s_R3"},"transform":[{"filter":"datum.k=='pt'"}],"mark":{"type":"point","shape":"square","filled":true,"strokeWidth":1.2,"opacity":1},"encoding":{"fill":{"condition":[{"test":"datum.up","value":"white"},{"test":"datum.fit","value":"red"}],"value":"black"},"stroke":{"condition":{"test":"datum.fit","value":"red"},"value":"black"},"size":{"condition":{"test":"datum.step==0","value":49},"value":25}}}
   ]}]},

 {"columns":2,"bounds":"flush","spacing":0,"resolve":{"scale":{"fill":"independent","stroke":"independent"},"legend":{"fill":"independent","stroke":"independent"}},"concat":[
  {"width":267.8,"height":288.2,"data":{"values":[]},"mark":"point"},{"width":1,"height":1,"data":{"values":[]},"mark":"point"},{"width":1,"height":1,"data":{"values":[]},"mark":"point"},
  {"width":285,"height":142.5,"data":{"name":"z_L1"},
   "encoding":{"x":{"field":"x","type":"quantitative","scale":{"domain":[-25,25],"nice":false,"zero":false},"axis":null},"y":{"field":"y","type":"quantitative","scale":{"domain":[0,25],"nice":false,"zero":false},"axis":null}},
   "layer":[
    {"transform":[{"filter":"datum.k=='axis'"}],"mark":{"type":"rule","color":"black","strokeWidth":1.2},"encoding":{"x2":{"field":"x2"},"y2":{"field":"y2"}}},
    {"transform":[{"filter":"datum.k=='ht'"}],"mark":{"type":"point","shape":"stroke","size":36,"angle":90,"stroke":"black","strokeWidth":1,"opacity":1}},
    {"transform":[{"filter":"datum.k=='vt'"}],"mark":{"type":"point","shape":"stroke","size":36,"angle":0,"stroke":"black","strokeWidth":1,"opacity":1}},
    {"transform":[{"filter":"datum.k=='fit'"}],"mark":{"type":"rule","color":"blue","strokeWidth":1.2},"encoding":{"x2":{"field":"x2"},"y2":{"field":"y2"}}},
    {"transform":[{"filter":"datum.k=='pt'"}],"mark":{"type":"line","color":"black","strokeWidth":1},"encoding":{"detail":{"field":"comp"},"order":{"field":"step"}}},
    {"transform":[{"filter":"datum.k=='pt' && !datum.fit"}],"mark":{"type":"point","shape":"square","filled":true,"strokeWidth":1.4,"opacity":1},"encoding":{
      "fill":{"field":"comp","type":"nominal","scale":{"domain":["Vertical","Horizontal","Unit = A/m × 10⁻⁵"],"range":["white","black","transparent"]},"legend":{"orient":"none","legendX":194.4,"legendY":-37.8,"title":null,"symbolType":"square","symbolSize":25,"symbolStrokeWidth":1,"labelOffset":2,"rowPadding":1.5}},
      "stroke":{"field":"comp","type":"nominal","scale":{"domain":["Vertical","Horizontal","Unit = A/m × 10⁻⁵"],"range":["black","black","transparent"]},"legend":{"orient":"none","legendX":194.4,"legendY":-37.8,"title":null,"symbolType":"square","symbolSize":25,"symbolStrokeWidth":1,"labelOffset":2,"rowPadding":1.5}},
      "size":{"condition":{"test":"datum.step==0","value":56},"value":25}}},
    {"transform":[{"filter":"datum.k=='pt' && datum.fit"}],"mark":{"type":"point","shape":"square","filled":true,"stroke":"red","strokeWidth":1,"opacity":1},"encoding":{"fill":{"condition":{"test":"datum.comp=='Horizontal'","value":"red"},"value":"white"},"size":{"condition":{"test":"datum.step==0","value":56},"value":25}}},
    {"transform":[{"filter":"datum.k=='lab' && datum.pos=='above'"}],"mark":{"type":"text","align":"center","baseline":"alphabetic","dy":-6,"fontSize":10,"color":"black"},"encoding":{"text":{"field":"t"}}},
    {"transform":[{"filter":"datum.k=='lab' && datum.pos=='leftof'"}],"mark":{"type":"text","align":"right","baseline":"middle","dx":-5,"fontSize":10,"color":"black"},"encoding":{"text":{"field":"t"}}},
    {"transform":[{"filter":"datum.k=='lab' && datum.pos=='rightof'"}],"mark":{"type":"text","align":"left","baseline":"middle","dx":5,"fontSize":10,"color":"black"},"encoding":{"text":{"field":"t"}}},
    {"transform":[{"filter":"datum.k=='lab' && datum.pos=='below'"}],"mark":{"type":"text","align":"center","baseline":"top","dy":4,"fontSize":10,"color":"black"},"encoding":{"text":{"field":"t"}}}
   ]}]},
 {"columns":2,"bounds":"flush","spacing":0,"resolve":{"scale":{"fill":"independent","stroke":"independent"},"legend":{"fill":"independent","stroke":"independent"}},"concat":[
  {"width":847.8,"height":140.7,"data":{"values":[]},"mark":"point"},{"width":1,"height":1,"data":{"values":[]},"mark":"point"},{"width":1,"height":1,"data":{"values":[]},"mark":"point"},
  {"width":226,"height":282.5,"data":{"name":"z_R1"},
   "encoding":{"x":{"field":"x","type":"quantitative","scale":{"domain":[-2,6],"nice":false,"zero":false},"axis":null},"y":{"field":"y","type":"quantitative","scale":{"domain":[-2,8],"nice":false,"zero":false},"axis":null}},
   "layer":[
    {"transform":[{"filter":"datum.k=='axis'"}],"mark":{"type":"rule","color":"black","strokeWidth":1.2},"encoding":{"x2":{"field":"x2"},"y2":{"field":"y2"}}},
    {"transform":[{"filter":"datum.k=='ht'"}],"mark":{"type":"point","shape":"stroke","size":36,"angle":90,"stroke":"black","strokeWidth":1,"opacity":1}},
    {"transform":[{"filter":"datum.k=='vt'"}],"mark":{"type":"point","shape":"stroke","size":36,"angle":0,"stroke":"black","strokeWidth":1,"opacity":1}},
    {"transform":[{"filter":"datum.k=='fit'"}],"mark":{"type":"rule","color":"blue","strokeWidth":1.2},"encoding":{"x2":{"field":"x2"},"y2":{"field":"y2"}}},
    {"transform":[{"filter":"datum.k=='pt'"}],"mark":{"type":"line","color":"black","strokeWidth":1},"encoding":{"detail":{"field":"comp"},"order":{"field":"step"}}},
    {"transform":[{"filter":"datum.k=='pt' && !datum.fit"}],"mark":{"type":"point","shape":"square","filled":true,"strokeWidth":1.4,"opacity":1},"encoding":{
      "fill":{"field":"comp","type":"nominal","scale":{"domain":["Vertical","Horizontal","Unit = A/m × 10⁻²"],"range":["white","black","transparent"]},"legend":{"orient":"none","legendX":153.4,"legendY":1,"title":null,"symbolType":"square","symbolSize":25,"symbolStrokeWidth":1,"labelOffset":2,"rowPadding":1.5}},
      "stroke":{"field":"comp","type":"nominal","scale":{"domain":["Vertical","Horizontal","Unit = A/m × 10⁻²"],"range":["black","black","transparent"]},"legend":{"orient":"none","legendX":153.4,"legendY":1,"title":null,"symbolType":"square","symbolSize":25,"symbolStrokeWidth":1,"labelOffset":2,"rowPadding":1.5}},
      "size":{"condition":{"test":"datum.step==0","value":56},"value":25}}},
    {"transform":[{"filter":"datum.k=='pt' && datum.fit"}],"mark":{"type":"point","shape":"square","filled":true,"stroke":"red","strokeWidth":1,"opacity":1},"encoding":{"fill":{"condition":{"test":"datum.comp=='Horizontal'","value":"red"},"value":"white"},"size":{"condition":{"test":"datum.step==0","value":56},"value":25}}},
    {"transform":[{"filter":"datum.k=='lab' && datum.pos=='above'"}],"mark":{"type":"text","align":"center","baseline":"alphabetic","dy":-6,"fontSize":10,"color":"black"},"encoding":{"text":{"field":"t"}}},
    {"transform":[{"filter":"datum.k=='lab' && datum.pos=='leftof'"}],"mark":{"type":"text","align":"right","baseline":"middle","dx":-5,"fontSize":10,"color":"black"},"encoding":{"text":{"field":"t"}}},
    {"transform":[{"filter":"datum.k=='lab' && datum.pos=='rightof'"}],"mark":{"type":"text","align":"left","baseline":"middle","dx":5,"fontSize":10,"color":"black"},"encoding":{"text":{"field":"t"}}},
    {"transform":[{"filter":"datum.k=='lab' && datum.pos=='below'"}],"mark":{"type":"text","align":"center","baseline":"top","dy":4,"fontSize":10,"color":"black"},"encoding":{"text":{"field":"t"}}}
   ]}]},
 {"columns":2,"bounds":"flush","spacing":0,"resolve":{"scale":{"fill":"independent","stroke":"independent"},"legend":{"fill":"independent","stroke":"independent"}},"concat":[
  {"width":251.95,"height":741,"data":{"values":[]},"mark":"point"},{"width":1,"height":1,"data":{"values":[]},"mark":"point"},{"width":1,"height":1,"data":{"values":[]},"mark":"point"},
  {"width":266.75,"height":266.75,"data":{"name":"z_L2"},
   "encoding":{"x":{"field":"x","type":"quantitative","scale":{"domain":[-25,0],"nice":false,"zero":false},"axis":null},"y":{"field":"y","type":"quantitative","scale":{"domain":[-15,10],"nice":false,"zero":false},"axis":null}},
   "layer":[
    {"transform":[{"filter":"datum.k=='axis'"}],"mark":{"type":"rule","color":"black","strokeWidth":1.2},"encoding":{"x2":{"field":"x2"},"y2":{"field":"y2"}}},
    {"transform":[{"filter":"datum.k=='ht'"}],"mark":{"type":"point","shape":"stroke","size":36,"angle":90,"stroke":"black","strokeWidth":1,"opacity":1}},
    {"transform":[{"filter":"datum.k=='vt'"}],"mark":{"type":"point","shape":"stroke","size":36,"angle":0,"stroke":"black","strokeWidth":1,"opacity":1}},
    {"transform":[{"filter":"datum.k=='fit'"}],"mark":{"type":"rule","color":"blue","strokeWidth":1.2},"encoding":{"x2":{"field":"x2"},"y2":{"field":"y2"}}},
    {"transform":[{"filter":"datum.k=='pt'"}],"mark":{"type":"line","color":"black","strokeWidth":1},"encoding":{"detail":{"field":"comp"},"order":{"field":"step"}}},
    {"transform":[{"filter":"datum.k=='pt' && !datum.fit"}],"mark":{"type":"point","shape":"square","filled":true,"strokeWidth":1.4,"opacity":1},"encoding":{
      "fill":{"field":"comp","type":"nominal","scale":{"domain":["Vertical","Horizontal","Unit = A/m × 10⁻⁴"],"range":["white","black","transparent"]},"legend":{"orient":"none","legendX":130.85,"legendY":-59.3,"title":null,"symbolType":"square","symbolSize":25,"symbolStrokeWidth":1,"labelOffset":2,"rowPadding":1.5}},
      "stroke":{"field":"comp","type":"nominal","scale":{"domain":["Vertical","Horizontal","Unit = A/m × 10⁻⁴"],"range":["black","black","transparent"]},"legend":{"orient":"none","legendX":130.85,"legendY":-59.3,"title":null,"symbolType":"square","symbolSize":25,"symbolStrokeWidth":1,"labelOffset":2,"rowPadding":1.5}},
      "size":{"condition":{"test":"datum.step==0","value":56},"value":25}}},
    {"transform":[{"filter":"datum.k=='pt' && datum.fit"}],"mark":{"type":"point","shape":"square","filled":true,"stroke":"red","strokeWidth":1,"opacity":1},"encoding":{"fill":{"condition":{"test":"datum.comp=='Horizontal'","value":"red"},"value":"white"},"size":{"condition":{"test":"datum.step==0","value":56},"value":25}}},
    {"transform":[{"filter":"datum.k=='lab' && datum.pos=='above'"}],"mark":{"type":"text","align":"center","baseline":"alphabetic","dy":-6,"fontSize":10,"color":"black"},"encoding":{"text":{"field":"t"}}},
    {"transform":[{"filter":"datum.k=='lab' && datum.pos=='leftof'"}],"mark":{"type":"text","align":"right","baseline":"middle","dx":-5,"fontSize":10,"color":"black"},"encoding":{"text":{"field":"t"}}},
    {"transform":[{"filter":"datum.k=='lab' && datum.pos=='rightof'"}],"mark":{"type":"text","align":"left","baseline":"middle","dx":5,"fontSize":10,"color":"black"},"encoding":{"text":{"field":"t"}}},
    {"transform":[{"filter":"datum.k=='lab' && datum.pos=='below'"}],"mark":{"type":"text","align":"center","baseline":"top","dy":4,"fontSize":10,"color":"black"},"encoding":{"text":{"field":"t"}}}
   ]}]},
 {"columns":2,"bounds":"flush","spacing":0,"resolve":{"scale":{"fill":"independent","stroke":"independent"},"legend":{"fill":"independent","stroke":"independent"}},"concat":[
  {"width":809,"height":578.2,"data":{"values":[]},"mark":"point"},{"width":1,"height":1,"data":{"values":[]},"mark":"point"},{"width":1,"height":1,"data":{"values":[]},"mark":"point"},
  {"width":253.5,"height":405.6,"data":{"name":"z_R2"},
   "encoding":{"x":{"field":"x","type":"quantitative","scale":{"domain":[0,5],"nice":false,"zero":false},"axis":null},"y":{"field":"y","type":"quantitative","scale":{"domain":[-4,4],"nice":false,"zero":false},"axis":null}},
   "layer":[
    {"transform":[{"filter":"datum.k=='axis'"}],"mark":{"type":"rule","color":"black","strokeWidth":1.2},"encoding":{"x2":{"field":"x2"},"y2":{"field":"y2"}}},
    {"transform":[{"filter":"datum.k=='ht'"}],"mark":{"type":"point","shape":"stroke","size":36,"angle":90,"stroke":"black","strokeWidth":1,"opacity":1}},
    {"transform":[{"filter":"datum.k=='vt'"}],"mark":{"type":"point","shape":"stroke","size":36,"angle":0,"stroke":"black","strokeWidth":1,"opacity":1}},
    {"transform":[{"filter":"datum.k=='fit'"}],"mark":{"type":"rule","color":"blue","strokeWidth":1.2},"encoding":{"x2":{"field":"x2"},"y2":{"field":"y2"}}},
    {"transform":[{"filter":"datum.k=='pt'"}],"mark":{"type":"line","color":"black","strokeWidth":1},"encoding":{"detail":{"field":"comp"},"order":{"field":"step"}}},
    {"transform":[{"filter":"datum.k=='pt' && !datum.fit"}],"mark":{"type":"point","shape":"square","filled":true,"strokeWidth":1.4,"opacity":1},"encoding":{
      "fill":{"field":"comp","type":"nominal","scale":{"domain":["Vertical","Horizontal","Unit = A/m × 10⁻⁴"],"range":["white","black","transparent"]},"legend":{"orient":"none","legendX":158.2,"legendY":241.2,"title":null,"symbolType":"square","symbolSize":25,"symbolStrokeWidth":1,"labelOffset":2,"rowPadding":1.5}},
      "stroke":{"field":"comp","type":"nominal","scale":{"domain":["Vertical","Horizontal","Unit = A/m × 10⁻⁴"],"range":["black","black","transparent"]},"legend":{"orient":"none","legendX":158.2,"legendY":241.2,"title":null,"symbolType":"square","symbolSize":25,"symbolStrokeWidth":1,"labelOffset":2,"rowPadding":1.5}},
      "size":{"condition":{"test":"datum.step==0","value":56},"value":25}}},
    {"transform":[{"filter":"datum.k=='pt' && datum.fit"}],"mark":{"type":"point","shape":"square","filled":true,"stroke":"red","strokeWidth":1,"opacity":1},"encoding":{"fill":{"condition":{"test":"datum.comp=='Horizontal'","value":"red"},"value":"white"},"size":{"condition":{"test":"datum.step==0","value":56},"value":25}}},
    {"transform":[{"filter":"datum.k=='lab' && datum.pos=='above'"}],"mark":{"type":"text","align":"center","baseline":"alphabetic","dy":-6,"fontSize":10,"color":"black"},"encoding":{"text":{"field":"t"}}},
    {"transform":[{"filter":"datum.k=='lab' && datum.pos=='leftof'"}],"mark":{"type":"text","align":"right","baseline":"middle","dx":-5,"fontSize":10,"color":"black"},"encoding":{"text":{"field":"t"}}},
    {"transform":[{"filter":"datum.k=='lab' && datum.pos=='rightof'"}],"mark":{"type":"text","align":"left","baseline":"middle","dx":5,"fontSize":10,"color":"black"},"encoding":{"text":{"field":"t"}}},
    {"transform":[{"filter":"datum.k=='lab' && datum.pos=='below'"}],"mark":{"type":"text","align":"center","baseline":"top","dy":4,"fontSize":10,"color":"black"},"encoding":{"text":{"field":"t"}}}
   ]}]},
 {"columns":2,"bounds":"flush","spacing":0,"resolve":{"scale":{"fill":"independent","stroke":"independent"},"legend":{"fill":"independent","stroke":"independent"}},"concat":[
  {"width":315.7,"height":1142.3,"data":{"values":[]},"mark":"point"},{"width":1,"height":1,"data":{"values":[]},"mark":"point"},{"width":1,"height":1,"data":{"values":[]},"mark":"point"},
  {"width":96,"height":384,"data":{"name":"z_L3"},
   "encoding":{"x":{"field":"x","type":"quantitative","scale":{"domain":[-5,5],"nice":false,"zero":false},"axis":null},"y":{"field":"y","type":"quantitative","scale":{"domain":[-30,10],"nice":false,"zero":false},"axis":null}},
   "layer":[
    {"transform":[{"filter":"datum.k=='axis'"}],"mark":{"type":"rule","color":"black","strokeWidth":1.2},"encoding":{"x2":{"field":"x2"},"y2":{"field":"y2"}}},
    {"transform":[{"filter":"datum.k=='ht'"}],"mark":{"type":"point","shape":"stroke","size":36,"angle":90,"stroke":"black","strokeWidth":1,"opacity":1}},
    {"transform":[{"filter":"datum.k=='vt'"}],"mark":{"type":"point","shape":"stroke","size":36,"angle":0,"stroke":"black","strokeWidth":1,"opacity":1}},
    {"transform":[{"filter":"datum.k=='fit'"}],"mark":{"type":"rule","color":"blue","strokeWidth":1.2},"encoding":{"x2":{"field":"x2"},"y2":{"field":"y2"}}},
    {"transform":[{"filter":"datum.k=='pt'"}],"mark":{"type":"line","color":"black","strokeWidth":1},"encoding":{"detail":{"field":"comp"},"order":{"field":"step"}}},
    {"transform":[{"filter":"datum.k=='pt' && !datum.fit"}],"mark":{"type":"point","shape":"square","filled":true,"strokeWidth":1.4,"opacity":1},"encoding":{
      "fill":{"field":"comp","type":"nominal","scale":{"domain":["Vertical","Horizontal","Unit = A/m × 10⁻⁴"],"range":["white","black","transparent"]},"legend":{"orient":"none","legendX":88.5,"legendY":-57.3,"title":null,"symbolType":"square","symbolSize":25,"symbolStrokeWidth":1,"labelOffset":2,"rowPadding":1.5}},
      "stroke":{"field":"comp","type":"nominal","scale":{"domain":["Vertical","Horizontal","Unit = A/m × 10⁻⁴"],"range":["black","black","transparent"]},"legend":{"orient":"none","legendX":88.5,"legendY":-57.3,"title":null,"symbolType":"square","symbolSize":25,"symbolStrokeWidth":1,"labelOffset":2,"rowPadding":1.5}},
      "size":{"condition":{"test":"datum.step==0","value":56},"value":25}}},
    {"transform":[{"filter":"datum.k=='pt' && datum.fit"}],"mark":{"type":"point","shape":"square","filled":true,"stroke":"red","strokeWidth":1,"opacity":1},"encoding":{"fill":{"condition":{"test":"datum.comp=='Horizontal'","value":"red"},"value":"white"},"size":{"condition":{"test":"datum.step==0","value":56},"value":25}}},
    {"transform":[{"filter":"datum.k=='lab' && datum.pos=='above'"}],"mark":{"type":"text","align":"center","baseline":"alphabetic","dy":-6,"fontSize":10,"color":"black"},"encoding":{"text":{"field":"t"}}},
    {"transform":[{"filter":"datum.k=='lab' && datum.pos=='leftof'"}],"mark":{"type":"text","align":"right","baseline":"middle","dx":-5,"fontSize":10,"color":"black"},"encoding":{"text":{"field":"t"}}},
    {"transform":[{"filter":"datum.k=='lab' && datum.pos=='rightof'"}],"mark":{"type":"text","align":"left","baseline":"middle","dx":5,"fontSize":10,"color":"black"},"encoding":{"text":{"field":"t"}}},
    {"transform":[{"filter":"datum.k=='lab' && datum.pos=='below'"}],"mark":{"type":"text","align":"center","baseline":"top","dy":4,"fontSize":10,"color":"black"},"encoding":{"text":{"field":"t"}}}
   ]}]},
 {"columns":2,"bounds":"flush","spacing":0,"resolve":{"scale":{"fill":"independent","stroke":"independent"},"legend":{"fill":"independent","stroke":"independent"}},"concat":[
  {"width":826.7,"height":1136,"data":{"values":[]},"mark":"point"},{"width":1,"height":1,"data":{"values":[]},"mark":"point"},{"width":1,"height":1,"data":{"values":[]},"mark":"point"},
  {"width":228,"height":380,"data":{"name":"z_R3"},
   "encoding":{"x":{"field":"x","type":"quantitative","scale":{"domain":[-5,10],"nice":false,"zero":false},"axis":null},"y":{"field":"y","type":"quantitative","scale":{"domain":[-15,10],"nice":false,"zero":false},"axis":null}},
   "layer":[
    {"transform":[{"filter":"datum.k=='axis'"}],"mark":{"type":"rule","color":"black","strokeWidth":1.2},"encoding":{"x2":{"field":"x2"},"y2":{"field":"y2"}}},
    {"transform":[{"filter":"datum.k=='ht'"}],"mark":{"type":"point","shape":"stroke","size":36,"angle":90,"stroke":"black","strokeWidth":1,"opacity":1}},
    {"transform":[{"filter":"datum.k=='vt'"}],"mark":{"type":"point","shape":"stroke","size":36,"angle":0,"stroke":"black","strokeWidth":1,"opacity":1}},
    {"transform":[{"filter":"datum.k=='fit'"}],"mark":{"type":"rule","color":"blue","strokeWidth":1.2},"encoding":{"x2":{"field":"x2"},"y2":{"field":"y2"}}},
    {"transform":[{"filter":"datum.k=='pt'"}],"mark":{"type":"line","color":"black","strokeWidth":1},"encoding":{"detail":{"field":"comp"},"order":{"field":"step"}}},
    {"transform":[{"filter":"datum.k=='pt' && !datum.fit"}],"mark":{"type":"point","shape":"square","filled":true,"strokeWidth":1.4,"opacity":1},"encoding":{
      "fill":{"field":"comp","type":"nominal","scale":{"domain":["Vertical","Horizontal","Unit = A/m × 10⁻⁵"],"range":["white","black","transparent"]},"legend":{"orient":"none","legendX":128.8,"legendY":-54.6,"title":null,"symbolType":"square","symbolSize":25,"symbolStrokeWidth":1,"labelOffset":2,"rowPadding":1.5}},
      "stroke":{"field":"comp","type":"nominal","scale":{"domain":["Vertical","Horizontal","Unit = A/m × 10⁻⁵"],"range":["black","black","transparent"]},"legend":{"orient":"none","legendX":128.8,"legendY":-54.6,"title":null,"symbolType":"square","symbolSize":25,"symbolStrokeWidth":1,"labelOffset":2,"rowPadding":1.5}},
      "size":{"condition":{"test":"datum.step==0","value":56},"value":25}}},
    {"transform":[{"filter":"datum.k=='pt' && datum.fit"}],"mark":{"type":"point","shape":"square","filled":true,"stroke":"red","strokeWidth":1,"opacity":1},"encoding":{"fill":{"condition":{"test":"datum.comp=='Horizontal'","value":"red"},"value":"white"},"size":{"condition":{"test":"datum.step==0","value":56},"value":25}}},
    {"transform":[{"filter":"datum.k=='lab' && datum.pos=='above'"}],"mark":{"type":"text","align":"center","baseline":"alphabetic","dy":-6,"fontSize":10,"color":"black"},"encoding":{"text":{"field":"t"}}},
    {"transform":[{"filter":"datum.k=='lab' && datum.pos=='leftof'"}],"mark":{"type":"text","align":"right","baseline":"middle","dx":-5,"fontSize":10,"color":"black"},"encoding":{"text":{"field":"t"}}},
    {"transform":[{"filter":"datum.k=='lab' && datum.pos=='rightof'"}],"mark":{"type":"text","align":"left","baseline":"middle","dx":5,"fontSize":10,"color":"black"},"encoding":{"text":{"field":"t"}}},
    {"transform":[{"filter":"datum.k=='lab' && datum.pos=='below'"}],"mark":{"type":"text","align":"center","baseline":"top","dy":4,"fontSize":10,"color":"black"},"encoding":{"text":{"field":"t"}}}
   ]}]}
]
}
